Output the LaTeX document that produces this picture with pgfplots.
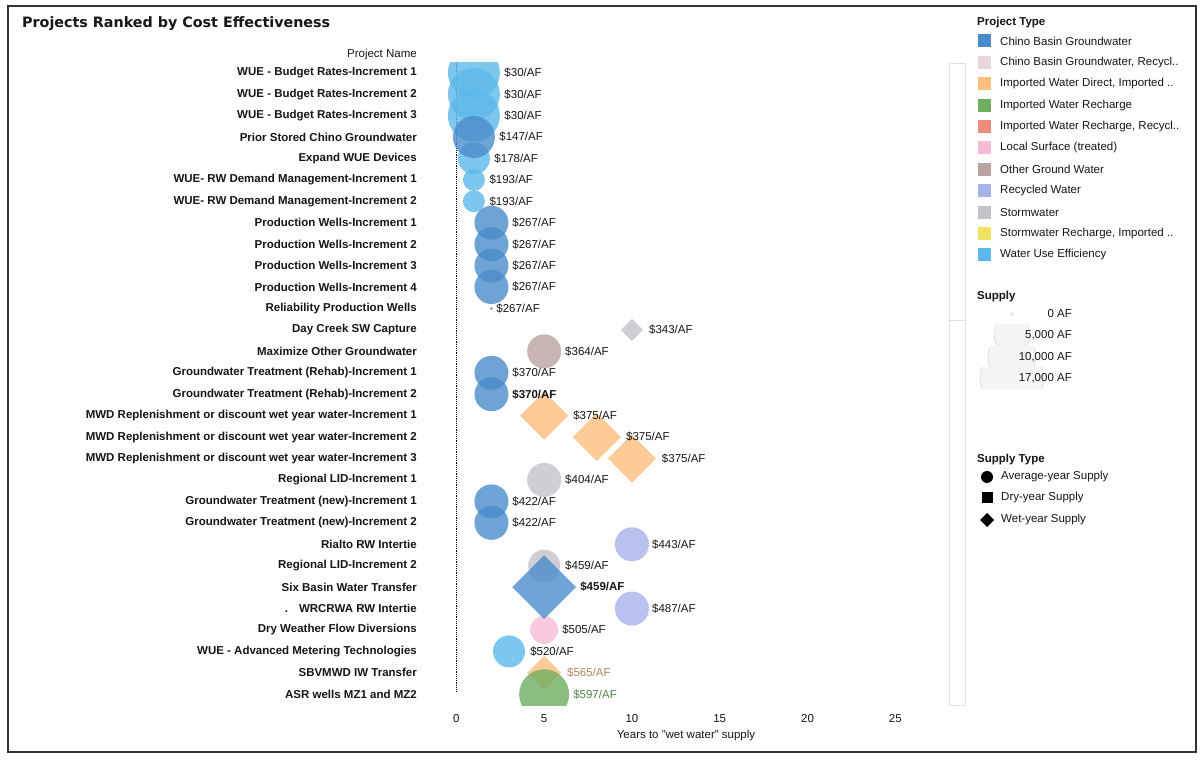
\documentclass[border=0pt]{standalone}
\usepackage{fontspec}
\setmainfont{Liberation Sans}
\newfontfamily\titlefont{DejaVu Sans}
\usepackage{pgfplots}
\pgfplotsset{compat=1.18}
\usepackage{pgfplotstable}

\definecolor{cbg}{HTML}{4A8CCB}
\definecolor{cbgr}{HTML}{E9D6DA}
\definecolor{iwd}{HTML}{FDBE7E}
\definecolor{iwr}{HTML}{6FAE5F}
\definecolor{iwrr}{HTML}{F08A7E}
\definecolor{ls}{HTML}{F7BCD8}
\definecolor{ogw}{HTML}{B9A4A2}
\definecolor{rw}{HTML}{A8B3EA}
\definecolor{sw}{HTML}{C2C2CA}
\definecolor{swr}{HTML}{F2E262}
\definecolor{wue}{HTML}{5DB9EA}
\definecolor{txt}{HTML}{161616}

\newcommand{\fs}{\fontsize{11.5}{13}\selectfont}

\pgfplotsset{
  bub/.style={scatter, only marks, mark=*,
    scatter/use mapped color={draw=none, fill=#1},
    mark options={fill opacity=0.8, draw opacity=0},
    visualization depends on={\thisrow{r}\as\rad},
    scatter/@pre marker code/.append style={/tikz/mark size=\rad}},
  dia/.style={scatter, only marks, mark=square*,
    scatter/use mapped color={draw=none, fill=#1},
    mark options={fill opacity=0.8, draw opacity=0, rotate=45},
    visualization depends on={\thisrow{r}\as\rad},
    scatter/@pre marker code/.append style={/tikz/mark size=\rad}},
  lab/.style={draw=none, mark=none, nodes near coords, point meta=explicit symbolic,
    every node near coord/.style={anchor=west, inner sep=0pt, font=\fs, text=#1}},
}

% Water Use Efficiency (circles): x = years, row, r = radius (px)
\pgfplotstableread{
x row r
1 1 26
1 2 26
1 3 26
1 5 16
1 6 11
1 7 11
3 28 16
}\wuetab
% Chino Basin Groundwater (circles)
\pgfplotstableread{
x row r
1 4 21
2 8 17
2 9 17
2 10 17
2 11 17
2 12 1.5
2 15 17
2 16 17
2 21 17
2 22 17
}\cbgtab
% Chino Basin Groundwater (wet-year diamond)
\pgfplotstableread{
x row r
5 25 22.6
}\cbgdtab
% Stormwater
\pgfplotstableread{
x row r
10 13 7.8
}\swdtab
\pgfplotstableread{
x row r
5 20 17
5 24 16
}\swtab
% Other Ground Water
\pgfplotstableread{
x row r
5 14 17
}\ogwtab
% Imported Water Direct (wet-year diamonds)
\pgfplotstableread{
x row r
5 17 17
8 18 17
10 19 17
5 29 12
}\iwdtab
% Recycled Water
\pgfplotstableread{
x row r
10 23 17
10 26 17
20 30.7 8
}\rwtab
% Local Surface (treated)
\pgfplotstableread{
x row r
5 27 14
}\lstab
% Imported Water Recharge
\pgfplotstableread{
x row r
5 30 25
}\iwrtab
% cost labels: lx = label position (years)
\pgfplotstableread{
lx row lab
2.73 1 \$30/AF
2.73 2 \$30/AF
2.73 3 \$30/AF
2.44 4 \$147/AF
2.16 5 \$178/AF
1.88 6 \$193/AF
1.88 7 \$193/AF
3.18 8 \$267/AF
3.18 9 \$267/AF
3.18 10 \$267/AF
3.18 11 \$267/AF
2.27 12 \$267/AF
10.97 13 \$343/AF
6.19 14 \$364/AF
3.18 15 \$370/AF
6.65 17 \$375/AF
9.66 18 \$375/AF
11.7 19 \$375/AF
6.19 20 \$404/AF
3.18 21 \$422/AF
3.18 22 \$422/AF
11.14 23 \$443/AF
6.19 24 \$459/AF
11.14 26 \$487/AF
6.02 27 \$505/AF
4.2 28 \$520/AF
}\labtab
\pgfplotstableread{
lx row lab
3.18 16 \$370/AF
7.05 25 \$459/AF
}\labbtab

\begin{document}
\begin{tikzpicture}[x=1pt,y=1pt]
\fill[white] (0,0) rectangle (1201,760);
\draw[line width=1.6pt, black!80] (8,8) rectangle (1196,754);
\node[anchor=west, inner sep=0pt, font=\titlefont\bfseries\fontsize{14.3}{17}\selectfont, text=txt] at (22,736) {Projects Ranked by Cost Effectiveness};
\node[anchor=east, inner sep=0pt, font=\fs, text=txt] at (417,705) {Project Name};
% scrollbar
\draw[black!12, line width=0.8pt] (949,55) rectangle (965,697);
\draw[black!12, line width=0.8pt] (949,440) -- (965,440);

\begin{axis}[at={(430pt,55pt)}, anchor=south west,
  width=518pt, height=643pt, scale only axis,
  xmin=-1.5, xmax=28, ymin=0.5, ymax=30.5, y dir=reverse,
  axis line style={draw=none}, tick style={draw=none},
  clip marker paths=true,
  xtick={0,5,...,25},
  ytick={1,...,30},
  yticklabels={
    WUE - Budget Rates-Increment 1,
    WUE - Budget Rates-Increment 2,
    WUE - Budget Rates-Increment 3,
    Prior Stored Chino Groundwater,
    Expand WUE Devices,
    WUE- RW Demand Management-Increment 1,
    WUE- RW Demand Management-Increment 2,
    Production Wells-Increment 1,
    Production Wells-Increment 2,
    Production Wells-Increment 3,
    Production Wells-Increment 4,
    Reliability Production Wells,
    Day Creek SW Capture,
    Maximize Other Groundwater,
    Groundwater Treatment (Rehab)-Increment 1,
    Groundwater Treatment (Rehab)-Increment 2,
    MWD Replenishment or discount wet year water-Increment 1,
    MWD Replenishment or discount wet year water-Increment 2,
    MWD Replenishment or discount wet year water-Increment 3,
    Regional LID-Increment 1,
    Groundwater Treatment (new)-Increment 1,
    Groundwater Treatment (new)-Increment 2,
    Rialto RW Intertie,
    Regional LID-Increment 2,
    Six Basin Water Transfer,
    .\hspace{11pt}WRCRWA RW Intertie,
    Dry Weather Flow Diversions,
    WUE - Advanced Metering Technologies,
    SBVMWD IW Transfer,
    ASR wells MZ1 and MZ2},
  yticklabel style={anchor=east, inner sep=0pt, xshift=-13pt, font=\fs\bfseries, text=txt},
  xticklabel style={inner sep=0pt, yshift=-9pt, font=\fs, text=txt},
  /pgf/number format/assume math mode=true,
]
\addplot[black, densely dotted, line width=1.2pt] coordinates {(0,0.5) (0,29.9)};
\addplot[bub=wue] table[x=x, y=row] {\wuetab};
\addplot[bub=cbg] table[x=x, y=row] {\cbgtab};
\addplot[bub=sw] table[x=x, y=row] {\swtab};
\addplot[dia=sw] table[x=x, y=row] {\swdtab};
\addplot[bub=ogw] table[x=x, y=row] {\ogwtab};
\addplot[dia=iwd] table[x=x, y=row] {\iwdtab};
\addplot[bub=rw] table[x=x, y=row] {\rwtab};
\addplot[bub=ls] table[x=x, y=row] {\lstab};
\addplot[bub=iwr] table[x=x, y=row] {\iwrtab};
\addplot[dia=cbg] table[x=x, y=row] {\cbgdtab};
\addplot[lab=txt] table[x=lx, y=row, meta=lab] {\labtab};
\addplot[lab=txt, every node near coord/.append style={font=\fs\bfseries}] table[x=lx, y=row, meta=lab] {\labbtab};
\addplot[lab={iwd!70!black}] coordinates {(6.3,29) [\$565/AF]};
\addplot[lab={iwr!75!black}] coordinates {(6.65,30) [\$597/AF]};
\end{axis}

\node[anchor=center, inner sep=0pt, font=\fs, text=txt] at (686,24) {Years to "wet water" supply};

% Project Type legend
\node[anchor=west, inner sep=0pt, font=\fs\bfseries, text=txt] at (977,737) {Project Type};
\foreach \c/\t [count=\i] in {cbg/Chino Basin Groundwater,
  cbgr/{Chino Basin Groundwater, Recycl..},
  iwd/{Imported Water Direct, Imported ..},
  iwr/Imported Water Recharge,
  iwrr/{Imported Water Recharge, Recycl..},
  ls/Local Surface (treated),
  ogw/Other Ground Water,
  rw/Recycled Water,
  sw/Stormwater,
  swr/{Stormwater Recharge, Imported ..},
  wue/Water Use Efficiency}{
  \pgfmathsetmacro{\yy}{760-41-(\i-1)*21.4}
  \fill[\c] (978,\yy-6.5) rectangle (991,\yy+6.5);
  \node[anchor=west, inner sep=0pt, font=\fs, text=txt] at (1000,\yy) {\t};
}

% Supply legend
\node[anchor=west, inner sep=0pt, font=\fs\bfseries, text=txt] at (977,463) {Supply};
\foreach \yp/\rr/\t in {314/1.5/0 AF, 335/18/{5,000 AF}, 357/24/{10,000 AF}, 378/32/{17,000 AF}}{
  \pgfmathsetmacro{\yy}{760-\yp}
  \begin{scope}
    \clip (960,\yy-10.5) rectangle (1060,\yy+10.5);
    \fill[black!4] (1012,\yy) circle (\rr);
    \draw[black!14, line width=0.6pt] (1012,\yy) circle (\rr);
  \end{scope}
  \node[anchor=east, inner sep=0pt, font=\fs, text=txt] at (1072,\yy) {\t};
}

% Supply Type legend
\node[anchor=west, inner sep=0pt, font=\fs\bfseries, text=txt] at (977,300) {Supply Type};
\fill[black] (987,283) circle (6);
\node[anchor=west, inner sep=0pt, font=\fs, text=txt] at (1001,283) {Average-year Supply};
\fill[black] (981.5,256.5) rectangle (992.5,267.5);
\node[anchor=west, inner sep=0pt, font=\fs, text=txt] at (1001,262) {Dry-year Supply};
\fill[black] (987,247) -- (994,240) -- (987,233) -- (980,240) -- cycle;
\node[anchor=west, inner sep=0pt, font=\fs, text=txt] at (1001,240) {Wet-year Supply};

\pgfresetboundingbox
\path[use as bounding box] (0,0) rectangle (1201,760);
\end{tikzpicture}
\end{document}
